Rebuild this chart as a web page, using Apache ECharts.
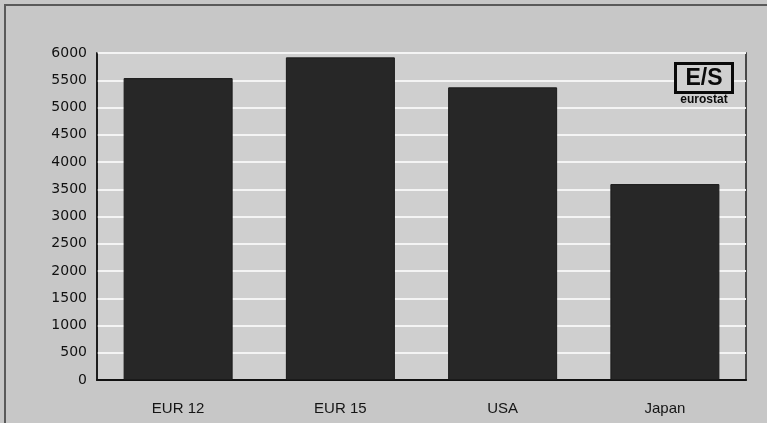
<!DOCTYPE html>
<html>
<head>
<meta charset="utf-8">
<script src="https://cdn.jsdelivr.net/npm/echarts@6/dist/echarts.min.js"></script>
<style>
  html, body { margin: 0; padding: 0; background: #c7c7c7; }
  #chart { width: 767px; height: 423px; }
</style>
</head>
<body>
<div id="chart"></div>
<script>
// Regions compared
const categories = ['EUR 12', 'EUR 15', 'USA', 'Japan'];
// Bar heights
const values = [5540, 5920, 5370, 3595];
// Value axis range and step
const yMin = 0;
const yMax = 6000;
const yStep = 500;

const chart = echarts.init(document.getElementById('chart'), null, { renderer: 'canvas' });

chart.setOption({
  animation: false,
  backgroundColor: '#c7c7c7',
  grid: {
    left: 97, right: 21, top: 53, bottom: 43,
    show: true,
    backgroundColor: '#cfcfcf',
    borderColor: '#1e1e1e',
    borderWidth: 1.5
  },
  xAxis: {
    type: 'category',
    data: categories,
    axisLine: { show: true, lineStyle: { color: '#111', width: 2 } },
    axisTick: { show: false },
    axisLabel: {
      margin: 21,
      color: '#151515',
      fontFamily: 'Liberation Sans',
      fontSize: 15
    }
  },
  yAxis: {
    type: 'value',
    min: yMin, max: yMax, interval: yStep,
    axisLine: { show: true, lineStyle: { color: '#111', width: 1.5 } },
    axisTick: { show: false },
    splitLine: { show: true, lineStyle: { color: '#f4f4f4', width: 2 } },
    axisLabel: {
      margin: 10,
      color: '#111',
      fontFamily: 'DejaVu Sans',
      fontSize: 14,
      formatter: function (v) { return String(v); }
    }
  },
  series: [{
    type: 'bar',
    data: values,
    barWidth: 109,
    itemStyle: { color: '#272727', borderColor: '#1a1a1a', borderWidth: 1 }
  }],
  graphic: [
    // outer frame (top and left edges visible)
    {
      type: 'rect',
      z: 100,
      shape: { x: 5, y: 5, width: 820, height: 480 },
      style: { fill: null, stroke: '#5a5a5a', lineWidth: 2 },
      silent: true
    },
    // eurostat logo
    {
      type: 'group',
      z: 100,
      left: 674, top: 62,
      children: [
        {
          type: 'rect',
          z: 100,
          shape: { x: 1.5, y: 1.5, width: 57, height: 29 },
          style: { fill: '#d0d0d0', stroke: '#0a0a0a', lineWidth: 3 }
        },
        {
          type: 'text',
          z: 101,
          x: 30, y: 17,
          style: {
            text: 'E/S',
            fill: '#0a0a0a',
            fontFamily: 'Liberation Sans',
            fontWeight: 'bold',
            fontSize: 23,
            align: 'center',
            verticalAlign: 'middle'
          }
        },
        {
          type: 'text',
          z: 101,
          x: 30, y: 38,
          style: {
            text: 'eurostat',
            fill: '#0a0a0a',
            fontFamily: 'Liberation Sans',
            fontWeight: 'bold',
            fontSize: 12,
            align: 'center',
            verticalAlign: 'middle'
          }
        }
      ]
    }
  ]
});
</script>
</body>
</html>
